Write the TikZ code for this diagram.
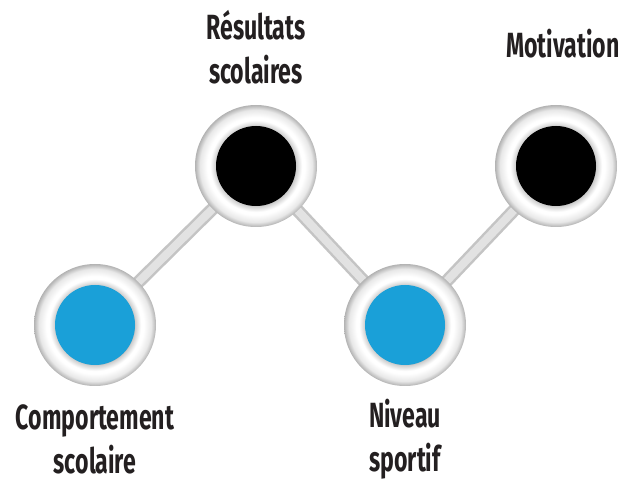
\documentclass[tikz,border=0pt]{standalone}
\usepackage{fontspec}
\usetikzlibrary{positioning}
\newfontfamily\labelfont{Fira Sans}[FakeStretch=0.66]
\definecolor{DotBlue}{RGB}{26, 160, 216}
\definecolor{DotBlack}{RGB}{0, 0, 0}
\definecolor{LabelInk}{RGB}{35, 31, 32}
\definecolor{LinkGrey}{RGB}{196, 196, 196}
\definecolor{LinkLight}{RGB}{226, 226, 226}
\pgfdeclareradialshading{ringshade}{\pgfpoint{0bp}{0bp}}{%
  color(0bp)=(black!40); color(15.6bp)=(black!40); color(16.4bp)=(black!20);
  color(18.8bp)=(white); color(20bp)=(white); color(23bp)=(black!9);
  color(25bp)=(black!30); color(50bp)=(black!30)}

\begin{document}
\begin{tikzpicture}[
    x=1pt, y=-1pt,
    % --- STYLES ---
    % Ring: white disc with a grey rim
    ring/.style={
        circle,
        minimum size=122pt,
        inner sep=0pt,
        shading=ringshade
    },
    % Dots: coloured cores
    dot/.style={
        circle,
        minimum size=80pt,
        inner sep=0pt
    },
    bluedot/.style={dot, fill=DotBlue},
    blackdot/.style={dot, fill=DotBlack},
    % Links between the rings: grey bar with a lighter core
    link/.style={
        draw=LinkGrey,
        line width=13pt,
        postaction={draw=LinkLight, line width=8pt}
    },
    % Labels: condensed bold
    tag/.style={
        align=center,
        text=LabelInk,
        inner sep=0pt,
        font=\labelfont\bfseries\fontsize{35}{44}\selectfont
    }
]
\useasboundingbox (0,0) rectangle (622,481);

% --- 1. ANCHOR POINTS ---
\coordinate (comportement) at (95,325);
\coordinate (resultats) at (256,166);
\coordinate (niveau) at (405,325);
\coordinate (motivation) at (556,166);

% --- 2. LINKS (drawn first, so they sit behind the rings) ---
\draw [link] (comportement) -- (resultats);
\draw [link] (resultats) -- (niveau);
\draw [link] (niveau) -- (motivation);

% --- 3. RINGS AND DOTS ---
\node (comportementring) [ring] at (comportement) {};
\node (resultatsring) [ring] at (resultats) {};
\node (niveauring) [ring] at (niveau) {};
\node (motivationring) [ring] at (motivation) {};

\node (comportementdot) [bluedot] at (comportement) {};
\node (resultatsdot) [blackdot] at (resultats) {};
\node (niveaudot) [bluedot] at (niveau) {};
\node (motivationdot) [blackdot] at (motivation) {};

% --- 4. LABELS ---
\node (comportementtag) [tag] at (95,439) {Comportement\\scolaire};
\node (resultatstag) [tag] at (256,47) {Résultats\\scolaires};
\node (niveautag) [tag] at (405,439) {Niveau\\sportif};
\node (motivationtag) [tag] at (563,44) {Motivation};

\end{tikzpicture}
\end{document}
